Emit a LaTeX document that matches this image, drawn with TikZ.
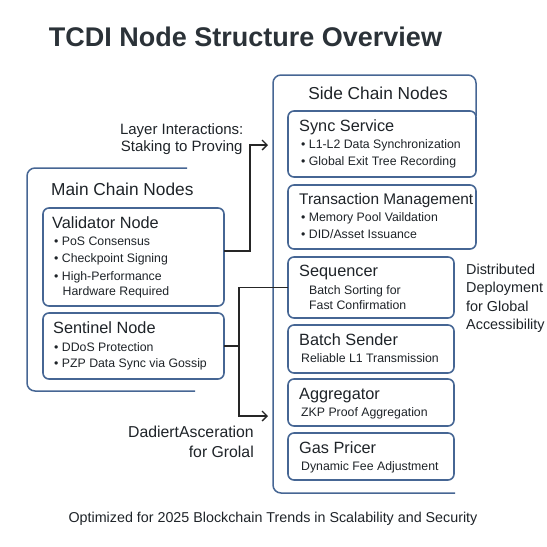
\documentclass[tikz,border=0pt]{standalone}
\usepackage{fontspec}
\setmainfont{Liberation Sans}
\usetikzlibrary{arrows.meta}
\definecolor{boxblue}{RGB}{70,102,148}
\definecolor{txt}{RGB}{30,35,40}
\definecolor{titlecol}{RGB}{43,50,56}
\definecolor{conncol}{RGB}{38,38,38}
\begin{document}
\begin{tikzpicture}[x=1pt,y=-1pt,
  box/.style={draw=boxblue,line width=1.6pt,rounded corners=6pt,inner sep=0pt,outer sep=0pt,anchor=north west},
  frame/.style={draw=boxblue,line width=1.5pt,rounded corners=8pt},
  conn/.style={draw=conncol,line width=1.5pt},
  tip/.style={-{Straight Barb[length=5pt,width=10pt,line width=1.3pt]}},
  base/.style={inner sep=0pt,text=txt},
  group/.style={base,anchor=base west,font=\fontsize{17.3}{19}\selectfont},
  head/.style={base,anchor=base west,font=\fontsize{16.3}{18}\selectfont},
  item/.style={base,anchor=base west,font=\fontsize{12.3}{14}\selectfont},
  note/.style={base,font=\fontsize{15}{17}\selectfont},
]
\useasboundingbox (0,0) rectangle (547,547);

% title
\node[inner sep=0pt,anchor=base,text=titlecol,font=\fontsize{27}{30}\selectfont\bfseries] (title) at (245.5,46) {TCDI Node Structure Overview};

% main chain frame
\draw[frame] (187,168) -- (27,168) -- (27,391) -- (195,391);
\node[group] (mainhead) at (51,195) {Main Chain Nodes};

\node[box,minimum width=181pt,minimum height=98pt] (val) at (43,208) {};
\node[head] (valh) at (52,228.5) {Validator Node};
\node[item] (val1) at (54,245.7) {\textbullet\ PoS Consensus};
\node[item] (val2) at (54,262.7) {\textbullet\ Checkpoint Signing};
\node[item] (val3) at (54,280) {\textbullet\ High-Performance};
\node[item] (val4) at (62.5,295) {Hardware Required};

\node[box,minimum width=181pt,minimum height=66pt] (sen) at (43,313) {};
\node[head] (senh) at (53,333) {Sentinel Node};
\node[item] (sen1) at (54,351.7) {\textbullet\ DDoS Protection};
\node[item] (sen2) at (54,367.7) {\textbullet\ PZP Data Sync via Gossip};

% side chain frame
\draw[frame] (455,493) -- (273,493) -- (273,75) -- (476,75) -- (476,116);
\node[group,anchor=base] (sidehead) at (378,99.3) {Side Chain Nodes};

\node[box,minimum width=188pt,minimum height=66pt] (sync) at (288,111) {};
\node[head] (synch) at (299,131.7) {Sync Service};
\node[item] (sync1) at (301,148.3) {\textbullet\ L1-L2 Data Synchronization};
\node[item] (sync2) at (301,165) {\textbullet\ Global Exit Tree Recording};

\node[box,minimum width=188pt,minimum height=64pt] (trans) at (288,185) {};
\node[head,font=\fontsize{15.4}{17}\selectfont] (transh) at (299,204.3) {Transaction Management};
\node[item] (trans1) at (301,221.7) {\textbullet\ Memory Pool Vaildation};
\node[item] (trans2) at (301,238.3) {\textbullet\ DID/Asset Issuance};

\node[box,minimum width=166pt,minimum height=61pt] (seq) at (288,257) {};
\node[head] (seqh) at (299,276.7) {Sequencer};
\node[item] (seq1) at (309,294.3) {Batch Sorting for};
\node[item] (seq2) at (309,309) {Fast Confirmation};

\node[box,minimum width=166pt,minimum height=48pt] (bsend) at (288,325) {};
\node[head] (bsendh) at (299,345) {Batch Sender};
\node[item] (bsend1) at (301,362.7) {Reliable L1 Transmission};

\node[box,minimum width=166pt,minimum height=47pt] (agg) at (288,379) {};
\node[head] (aggh) at (299,399.3) {Aggregator};
\node[item] (agg1) at (301,416.7) {ZKP Proof Aggregation};

\node[box,minimum width=166pt,minimum height=47pt] (gas) at (288,433) {};
\node[head] (gash) at (299,453.3) {Gas Pricer};
\node[item] (gas1) at (301,470) {Dynamic Fee Adjustment};

% right note
\node[note,anchor=base west,font=\fontsize{14.4}{17}\selectfont] (d1) at (466,274) {Distributed};
\node[note,anchor=base west,font=\fontsize{14.4}{17}\selectfont] (d2) at (466,292.5) {Deployment};
\node[note,anchor=base west,font=\fontsize{14.4}{17}\selectfont] (d3) at (466,311) {for Global};
\node[note,anchor=base west,font=\fontsize{14.4}{17}\selectfont] (d4) at (466,329.5) {Accessibility};

% layer interactions label
\node[note,anchor=base] (li1) at (181.7,134.3) {Layer Interactions:};
\node[note,anchor=base] (li2) at (181.7,151.7) {Staking to Proving};

% garbled label
\node[note,anchor=base east,font=\fontsize{15.8}{18}\selectfont] (g1) at (254,437.3) {DadiertAsceration};
\node[note,anchor=base east,font=\fontsize{15.8}{18}\selectfont] (g2) at (254,457.3) {for Grolal};

% connectors
\coordinate (j1) at (250,145);
\coordinate (e1) at (268,145);
\draw[conn,tip] ([yshift=6pt]val.east) -| (j1) -- (e1);

\coordinate (b2) at (239,416);
\coordinate (e2) at (268,416);
\draw[conn] (sen.east) -- (sen.east -| b2);
\draw[conn,tip] (seq.west) -- (seq.west -| b2) -- (b2) -- (e2);

% bottom note
\node[base,anchor=base,font=\fontsize{14.3}{17}\selectfont] (foot) at (273,522) {Optimized for 2025 Blockchain Trends in Scalability and Security};
\end{tikzpicture}
\end{document}
